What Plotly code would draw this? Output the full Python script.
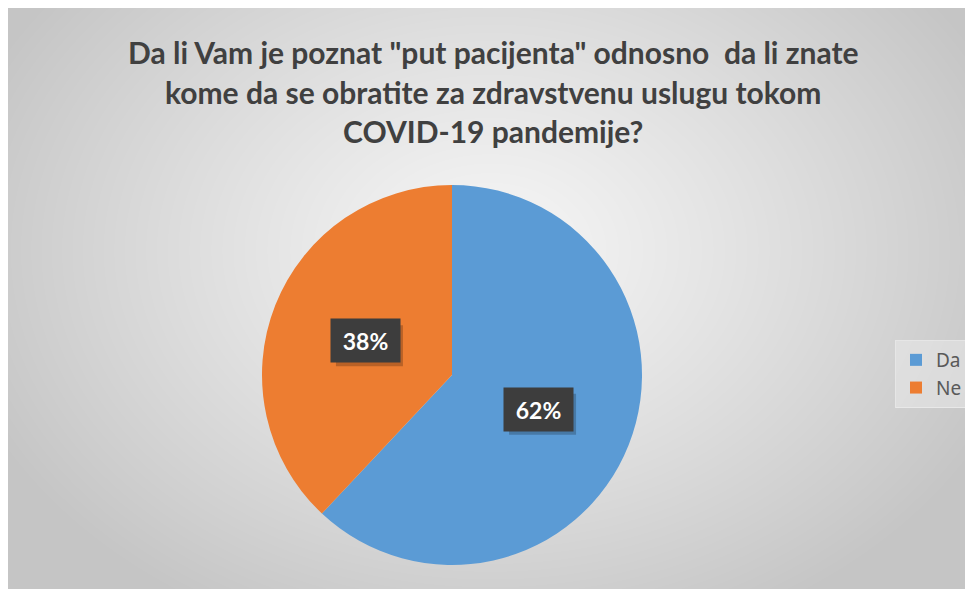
import base64, struct, zlib, math
import numpy as np
import plotly.graph_objects as go

# ---- data ----
labels = ["Da", "Ne"]
values = [62, 38]
colors = ["#5B9BD5", "#ED7D31"]
title_lines = [
    'Da li Vam je poznat "put pacijenta" odnosno  da li znate',
    'kome da se obratite za zdravstvenu uslugu tokom',
    'COVID-19 pandemije?',
]

W, H = 973, 589

# ---- background radial gradient as inline PNG ----
def make_bg():
    yy, xx = np.mgrid[0:H, 0:W].astype(float)
    cx, cy = 482.0, 242.0
    d = np.sqrt(((xx - cx) / 560.0) ** 2 + ((yy - cy) / 420.0) ** 2)
    d = np.clip(d, 0, 1)
    inner, outer = 246.0, 197.0
    g = inner - (inner - outer) * d ** 1.15
    img = np.stack([g, g, g], axis=-1).astype(np.uint8)
    raw = b"".join(b"\x00" + img[r].tobytes() for r in range(H))
    def chunk(t, data):
        c = struct.pack(">I", len(data)) + t + data
        return c + struct.pack(">I", zlib.crc32(t + data) & 0xffffffff)
    png = b"\x89PNG\r\n\x1a\n" + chunk(b"IHDR", struct.pack(">IIBBBBB", W, H, 8, 2, 0, 0, 0)) \
        + chunk(b"IDAT", zlib.compress(raw, 9)) + chunk(b"IEND", b"")
    return "data:image/png;base64," + base64.b64encode(png).decode()

# pie geometry (pixels, figure coordinates)
pcx, pcy, pr = 444, 367, 190

fig = go.Figure()
fig.add_trace(go.Pie(
    labels=labels, values=values, sort=False, direction="clockwise", rotation=0,
    marker=dict(colors=colors, line=dict(width=0)),
    textinfo="none", hoverinfo="label+percent",
    domain=dict(x=[(pcx - pr) / W, (pcx + pr) / W], y=[(H - pcy - pr) / H, (H - pcy + pr) / H]),
))

annotations = []
shapes = []
# title lines
title_y = [44, 84, 123]
for line, yp in zip(title_lines, title_y):
    annotations.append(dict(
        text=line, x=485 / W, y=1 - yp / H, xref="paper", yref="paper",
        xanchor="center", yanchor="middle", showarrow=False,
        font=dict(family="Lato", size=30, color="#404040", weight="bold"),
    ))

# data labels computed from values
total = sum(values)
cum = 0
k = 0.49
bw, bh = 67, 41
for v in values:
    mid = (cum + v / 2) / total * 2 * math.pi
    cum += v
    px = pcx + k * pr * math.sin(mid)
    py = pcy - k * pr * math.cos(mid)
    txt = f"{round(v / total * 100)}%"
    # soft shadow as a shape
    shapes.append(dict(
        type="rect", xref="paper", yref="paper", layer="above",
        x0=(px - bw / 2 + 4) / W, x1=(px + bw / 2 + 4) / W,
        y0=1 - (py + bh / 2 + 5) / H, y1=1 - (py - bh / 2 + 5) / H,
        fillcolor="rgba(0,0,0,0.22)", line=dict(width=0),
    ))
    annotations.append(dict(
        text=txt, x=px / W, y=1 - py / H, xref="paper", yref="paper",
        xanchor="center", yanchor="middle",
        showarrow=False, width=bw, height=bh, bgcolor="#3d3d3d",
        font=dict(family="Lato", size=23, color="#ffffff", weight="bold"),
    ))

fig.update_layout(
    width=W, height=H,
    margin=dict(l=0, r=0, t=0, b=0),
    paper_bgcolor="white", plot_bgcolor="white",
    images=[dict(source=make_bg(), xref="paper", yref="paper", x=0, y=1,
                 sizex=1, sizey=1, xanchor="left", yanchor="top",
                 sizing="stretch", layer="below")],
    annotations=annotations,
    shapes=shapes,
    showlegend=True,
    legend=dict(
        x=887 / W, y=1 - 366 / H, xanchor="left", yanchor="middle",
        bgcolor="rgba(240,240,240,0.45)", bordercolor="rgba(235,235,235,0.8)", borderwidth=1,
        font=dict(family="Noto Sans", size=19, color="#595959"),
        itemwidth=30,
    ),
)

fig.write_html("out.html")
